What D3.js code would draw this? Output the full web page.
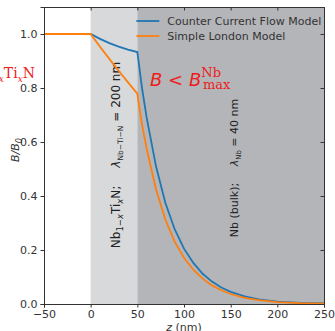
<!DOCTYPE html>
<html>
<head>
<meta charset="utf-8">
<script src="https://cdn.jsdelivr.net/npm/d3@7"></script>
<style>
  body { margin: 0; background: #fff; }
  svg { display: block; font-family: "DejaVu Sans", sans-serif; }
</style>
</head>
<body>
<svg width="335" height="331"></svg>
<script>
const zCounter = [-50, 0, 10, 20, 30, 40, 50, 52, 55, 60, 70, 80, 90, 100, 110, 120, 130, 140, 150, 165, 180, 200, 225, 250];
const bCounter = [1.0, 1.0, 0.982, 0.966, 0.953, 0.942, 0.933, 0.88, 0.80, 0.69, 0.51, 0.375, 0.277, 0.205, 0.152, 0.112, 0.083, 0.061, 0.045, 0.028, 0.017, 0.009, 0.004, 0.002];
const zLondon = [-50, 0, 10, 20, 30, 40, 50, 52, 55, 60, 70, 80, 90, 100, 110, 120, 130, 140, 150, 165, 180, 200, 225, 250];
const bLondon = [1.0, 1.0, 0.953, 0.908, 0.864, 0.821, 0.779, 0.73, 0.665, 0.575, 0.425, 0.313, 0.231, 0.171, 0.127, 0.094, 0.069, 0.051, 0.037, 0.023, 0.014, 0.007, 0.003, 0.001];
const seriesNames = ["Counter Current Flow Model", "Simple London Model"];
const seriesColors = ["#1f77b4", "#ff7f0e"];
const regions = [[0, 50, "#d8d9db"], [50, 250, "#b4b5b8"]];
const xTicks = [-50, 0, 50, 100, 150, 200, 250];
const yTicks = [0, 0.2, 0.4, 0.6, 0.8, 1.0];

// Dimensions
const margin = { top: 7, right: 11, bottom: 27, left: 44 };
const width = 335 - margin.left - margin.right;
const height = 331 - margin.top - margin.bottom;

const svg = d3.select("svg");
const g = svg.append("g").attr("transform", `translate(${margin.left}, ${margin.top})`);

const x = d3.scaleLinear().domain([-50, 250]).range([0, width]);
const y = d3.scaleLinear().domain([0, 1.1]).range([height, 0]);

// Shaded layers
g.selectAll(".region")
  .data(regions)
  .enter().append("rect")
  .attr("x", d => x(d[0]))
  .attr("y", 0)
  .attr("width", d => x(d[1]) - x(d[0]))
  .attr("height", height)
  .attr("fill", d => d[2]);

// Rotated layer labels
const lab1 = g.append("text")
  .attr("transform", `translate(${x(25) + 6}, 148) rotate(-90)`)
  .attr("text-anchor", "middle")
  .attr("font-size", 12)
  .attr("fill", "#222");
lab1.append("tspan").text("Nb");
lab1.append("tspan").attr("dy", 3).attr("font-size", 8.5).text("1\u2212");
lab1.append("tspan").attr("dy", 0).attr("font-size", 8.5).attr("font-style", "italic").text("x");
lab1.append("tspan").attr("dy", -3).text("Ti");
lab1.append("tspan").attr("dy", 3).attr("font-size", 8.5).attr("font-style", "italic").text("x");
lab1.append("tspan").attr("dy", -3).text("N;\u2003\u2002");
lab1.append("tspan").attr("font-style", "italic").text("\u03bb");
lab1.append("tspan").attr("dy", 3).attr("font-size", 7.5).text("Nb\u2212Ti\u2212N");
lab1.append("tspan").attr("dy", -3).text(" = 200 nm");

const lab2 = g.append("text")
  .attr("transform", `translate(${x(150) + 7}, 161) rotate(-90)`)
  .attr("text-anchor", "middle")
  .attr("font-size", 11)
  .attr("fill", "#222");
lab2.append("tspan").text("Nb (bulk);\u2003\u2002");
lab2.append("tspan").attr("font-style", "italic").text("\u03bb");
lab2.append("tspan").attr("dy", 3).attr("font-size", 7).text("Nb");
lab2.append("tspan").attr("dy", -3).text(" = 40 nm");

// Lines
const line = d3.line()
  .x(d => x(d[0]))
  .y(d => y(d[1]));

const series = [
  d3.zip(zCounter, bCounter),
  d3.zip(zLondon, bLondon)
];

g.selectAll(".line")
  .data(series)
  .enter().append("path")
  .attr("class", "line")
  .attr("fill", "none")
  .attr("stroke", (d, i) => seriesColors[i])
  .attr("stroke-width", 1.8)
  .attr("d", line);

// Axes
const xAxis = g.append("g").attr("transform", `translate(0, ${height})`)
  .call(d3.axisBottom(x).tickValues(xTicks).tickSize(3.5).tickPadding(3).tickFormat(d => d < 0 ? "\u2212" + Math.abs(d) : d));
const xTop = g.append("g")
  .call(d3.axisTop(x).tickValues(xTicks).tickSize(-3.5).tickFormat(""));
const yAxis = g.append("g")
  .call(d3.axisLeft(y).tickValues(yTicks).tickSize(3.5).tickPadding(3).tickFormat(d3.format(".1f")));
const yRight = g.append("g").attr("transform", `translate(${width}, 0)`)
  .call(d3.axisRight(y).tickValues(yTicks).tickSize(-3.5).tickFormat(""));

[xAxis, xTop, yAxis, yRight].forEach(a => {
  a.select(".domain").attr("stroke", "#333").attr("stroke-width", 1);
  a.selectAll(".tick line").attr("stroke", "#333");
  a.selectAll(".tick text").attr("fill", "#333").attr("font-size", 11).attr("font-family", "DejaVu Sans");
});

// Axis labels
const xl = svg.append("text")
  .attr("x", margin.left + width / 2)
  .attr("y", 331)
  .attr("text-anchor", "middle")
  .attr("font-size", 11)
  .attr("fill", "#333");
xl.append("tspan").attr("font-style", "italic").text("z");
xl.append("tspan").text(" (nm)");

const yl = svg.append("text")
  .attr("transform", `translate(19, 150) rotate(-90)`)
  .attr("text-anchor", "middle")
  .attr("font-size", 11)
  .attr("fill", "#333")
  .attr("font-style", "italic");
yl.append("tspan").text("B/B");
yl.append("tspan").attr("dy", 3).attr("font-size", 8).text("0");

// Legend
const legend = g.append("g").attr("transform", `translate(${x(50) - 1}, 14)`);
seriesNames.forEach((name, i) => {
  legend.append("line")
    .attr("x1", 0).attr("x2", 23)
    .attr("y1", i * 15).attr("y2", i * 15)
    .attr("stroke", seriesColors[i]).attr("stroke-width", 1.8);
  legend.append("text")
    .attr("x", 31).attr("y", i * 15 + 4)
    .attr("font-size", 11)
    .attr("fill", "#333")
    .text(name);
});

// Red annotations
const ann = svg.append("text")
  .attr("x", 150).attr("y", 86)
  .attr("fill", "#ee1c1c")
  .attr("font-size", 18);
ann.append("tspan").attr("font-style", "italic").text("B");
ann.append("tspan").text(" < ");
ann.append("tspan").attr("font-style", "italic").text("B");
ann.append("tspan").attr("dy", -9).attr("font-size", 13).attr("font-family", "DejaVu Serif").text("Nb");
ann.append("tspan").attr("dx", -18).attr("dy", 12).attr("font-size", 13).attr("font-family", "DejaVu Serif").text("max");

const left = svg.append("text")
  .attr("x", 35).attr("y", 78)
  .attr("text-anchor", "end")
  .attr("fill", "#ee1c1c")
  .attr("font-size", 14)
  .attr("font-family", "DejaVu Serif");
left.append("tspan").text("Nb");
left.append("tspan").attr("dy", 4).attr("font-size", 9).text("1\u2212");
left.append("tspan").attr("font-size", 9).attr("font-style", "italic").text("x");
left.append("tspan").attr("dy", -4).text("Ti");
left.append("tspan").attr("dy", 4).attr("font-size", 9).attr("font-style", "italic").text("x");
left.append("tspan").attr("dy", -4).text("N");
</script>
</body>
</html>
